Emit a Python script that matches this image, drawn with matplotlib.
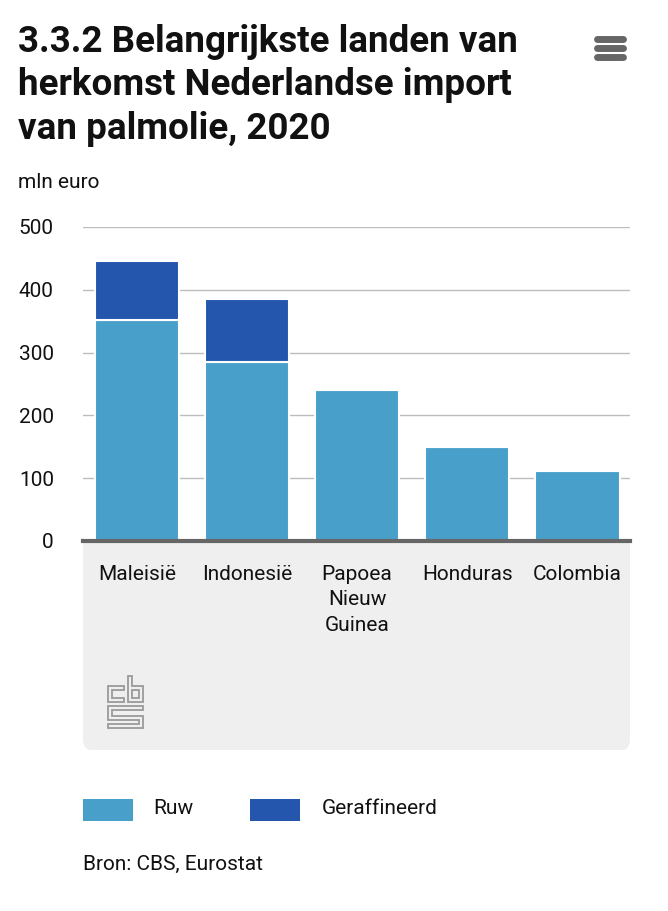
import matplotlib
matplotlib.use("Agg")
import matplotlib.pyplot as plt
from matplotlib.patches import FancyBboxPatch, Rectangle, Polygon
from matplotlib.lines import Line2D

categories = ["Maleisië", "Indonesië", "Papoea\nNieuw\nGuinea", "Honduras", "Colombia"]
ruw = [352, 285, 240, 150, 112]
geraffineerd = [94, 101, 0, 0, 0]
yticks = [0, 100, 200, 300, 400, 500]

C_RUW = "#489fca"
C_GER = "#2456ae"
FONT = ["Roboto", "DejaVu Sans"]
plt.rcParams["font.family"] = FONT

W, H = 668, 911
fig = plt.figure(figsize=(W / 100, H / 100), dpi=100)

def fx(x):
    return x / W

def fy(y):
    return 1 - y / H

# grey panel below axis
fig.patches.append(FancyBboxPatch((fx(83), fy(750)), fx(630) - fx(83), fy(541) - fy(750),
                                  boxstyle="round,pad=0,rounding_size=0.012",
                                  transform=fig.transFigure, facecolor="#efefef",
                                  edgecolor="none", zorder=0))
fig.patches.append(Rectangle((fx(83), fy(570)), fx(630) - fx(83), fy(541) - fy(570),
                             transform=fig.transFigure, facecolor="#efefef",
                             edgecolor="none", zorder=0))

ax = fig.add_axes([fx(83), fy(541), fx(630) - fx(83), fy(227) - fy(541)])
ax.set_zorder(3)
ax.set_facecolor("none")
x = list(range(len(categories)))
ax.bar(x, ruw, width=0.77, color=C_RUW, edgecolor="white", linewidth=1.5, zorder=3)
ax.bar(x, geraffineerd, width=0.77, bottom=ruw, color=C_GER, edgecolor="white",
       linewidth=1.5, zorder=3)
ax.set_xlim(-0.49, 4.48)
ax.set_ylim(0, 500)
ax.set_yticks(yticks)
ax.set_yticklabels([str(v) for v in yticks], fontsize=15, color="#111111")
ax.yaxis.grid(True, color="#bdbdbd", linewidth=1.0, zorder=1)
ax.set_axisbelow(True)
for s in ["top", "right", "left"]:
    ax.spines[s].set_visible(False)
ax.spines["bottom"].set_color("#666666")
ax.spines["bottom"].set_linewidth(3)
ax.spines["bottom"].set_zorder(5)
ax.tick_params(axis="y", length=0, pad=21)
ax.tick_params(axis="x", length=0, pad=17)
ax.set_xticks(x)
ax.set_xticklabels(categories, fontsize=15, color="#111111", linespacing=1.45)

# title and texts
fig.text(fx(18), fy(24), "3.3.2 Belangrijkste landen van\nherkomst Nederlandse import\nvan palmolie, 2020",
         fontsize=26.5, fontweight="bold", color="#111111", va="top", ha="left",
         linespacing=1.26)
fig.text(fx(18), fy(182), "mln euro", fontsize=15, color="#111111", va="center")

# hamburger icon
for yy in [39, 48, 57]:
    fig.lines.append(Line2D([fx(597), fx(623)], [fy(yy), fy(yy)], transform=fig.transFigure,
                            color="#666666", linewidth=5, solid_capstyle="round"))

# CBS logo (simplified)
logo_color = "#9a9a9a"
polys = [
    [(108, 686), (124, 686), (124, 690), (112, 690), (112, 698), (124, 698), (124, 702), (108, 702)],
    [(128, 676), (132, 676), (132, 686), (143, 686), (143, 702), (128, 702)],
    [(132, 690), (139, 690), (139, 698), (132, 698)],
    [(108, 706), (143, 706), (143, 710), (112, 710), (112, 716), (143, 716), (143, 728),
     (108, 728), (108, 724), (139, 724), (139, 720), (108, 720)],
]
for p in polys:
    fig.patches.append(Polygon([(fx(a), fy(b)) for a, b in p], closed=True,
                               transform=fig.transFigure, facecolor="none",
                               edgecolor=logo_color, linewidth=1.3, zorder=2))

# legend
fig.patches.append(Rectangle((fx(83), fy(821)), fx(133) - fx(83), fy(799) - fy(821),
                             transform=fig.transFigure, facecolor=C_RUW, edgecolor="none"))
fig.text(fx(153), fy(808), "Ruw", fontsize=15, color="#111111", va="center")
fig.patches.append(Rectangle((fx(250), fy(821)), fx(300) - fx(250), fy(799) - fy(821),
                             transform=fig.transFigure, facecolor=C_GER, edgecolor="none"))
fig.text(fx(322), fy(808), "Geraffineerd", fontsize=15, color="#111111", va="center")

fig.text(fx(83), fy(864), "Bron: CBS, Eurostat", fontsize=15, color="#111111", va="center")

fig.savefig("out.png", dpi=100, facecolor="white")
